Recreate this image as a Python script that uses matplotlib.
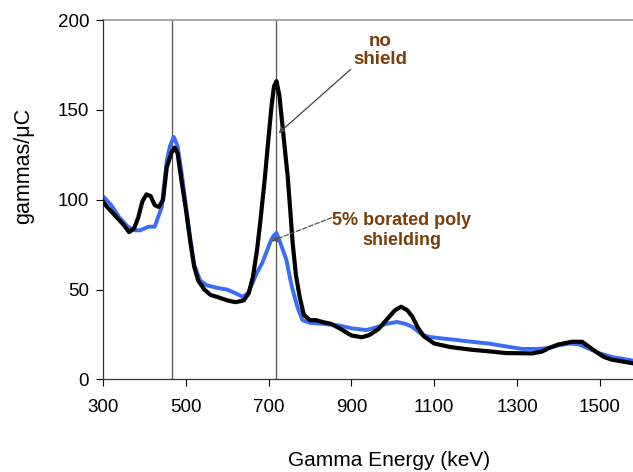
import matplotlib.pyplot as plt

plt.rcParams['font.family'] = ['Liberation Sans', 'DejaVu Sans']

# no shield spectrum (black)
e_noshield = [300, 310, 330, 350, 363, 375, 385, 395, 405, 415, 425, 435, 445, 454,
              465, 473, 480, 490, 500, 510, 520, 530, 545, 560, 575, 600, 620, 640,
              652, 662, 672, 680, 690, 700, 707, 713, 719, 726, 734, 746, 752, 758,
              766, 775, 785, 800, 815, 830, 850, 871, 900, 925, 943, 965, 984, 1005, 1020,
              1035, 1047, 1060, 1075, 1100, 1140, 1192, 1240, 1273, 1336, 1360, 1377,
              1400, 1433, 1457, 1475, 1490, 1510, 1529, 1555, 1580]
g_noshield = [99, 96, 91, 86, 82, 84, 90, 99, 103, 102, 97, 96, 100, 118,
              126, 129, 126, 110, 95, 78, 63, 55, 50, 47, 46, 44, 43, 44,
              48, 57, 72, 88, 110, 135, 152, 163, 166, 158, 140, 113, 95, 76,
              58, 46, 36, 33, 33, 32, 31, 28.5, 24.5, 23.5, 24.7, 28, 33, 38.5, 40.5,
              38.5, 35, 29, 24, 20, 18, 16.5, 15.5, 14.7, 14.5, 15.5, 17.5,
              19.5, 21, 21, 18, 15.5, 12.5, 11, 10, 9]

# 5% borated poly shielding spectrum (blue)
e_borated = [300, 320, 340, 360, 375, 390, 410, 425, 442, 454, 462, 471, 480, 490,
             500, 510, 520, 535, 550, 575, 600, 620, 637, 650, 660, 671, 685, 695,
             705, 712, 719, 730, 743, 752, 758, 770, 782, 800, 830, 871, 900, 936,
             960, 985, 1010, 1030, 1045, 1057, 1070, 1088, 1120, 1153, 1190, 1232,
             1270, 1312, 1350, 1377, 1400, 1425, 1450, 1475, 1500, 1530, 1555, 1580]
g_borated = [102, 97, 90, 85, 83, 83, 85, 85, 96, 122, 130, 135, 130, 115,
             97, 80, 64, 55, 52.5, 51, 50, 48, 46, 48, 53, 59, 65, 71,
             77, 80, 81.5, 75, 66.5, 56, 50, 40, 33, 31.5, 31, 30, 28.5, 27.5,
             29, 31, 32, 31, 29.5, 27.5, 25, 23.7, 22.8, 22, 21, 20,
             18.5, 17, 17, 17.5, 19, 20, 19.5, 17, 14.5, 12.5, 11.5, 10.5]

peak_lines = [467, 717]
x_ticks = [300, 500, 700, 900, 1100, 1300, 1500]
y_ticks = [0, 50, 100, 150, 200]

fig = plt.figure(figsize=(6.33, 4.72), dpi=100)
ax = fig.add_axes([0.1627, 0.196, 0.8373, 0.7616])

for e in peak_lines:
    ax.axvline(e, color='#555555', lw=0.9, zorder=1)
ax.axhline(200, color='#999999', lw=1.2, zorder=1, clip_on=False)

ax.plot(e_borated, g_borated, color='#3a6cf4', lw=2.8, zorder=2)
ax.plot(e_noshield, g_noshield, color='black', lw=3.0, zorder=3)

ax.set_xlim(300, 1580)
ax.set_ylim(0, 200)
ax.set_xticks(x_ticks)
ax.set_yticks(y_ticks)
ax.tick_params(direction='out', length=5, width=0.8, labelsize=13.5, pad=5)
ax.tick_params(axis='x', pad=9)
for s in ['top', 'right']:
    ax.spines[s].set_visible(False)
for s in ['left', 'bottom']:
    ax.spines[s].set_linewidth(0.9)
    ax.spines[s].set_color('#333333')

ax.set_xlabel('Gamma Energy (keV)', fontsize=15)
ax.set_ylabel('gammas/μC', fontsize=15.5)
ax.xaxis.set_label_coords(0.54, -0.2)
ax.yaxis.set_label_coords(-0.13, 0.594)

brown = '#7a3e0a'
ax.text(970, 183, 'no\nshield', ha='center', va='center', fontsize=13.5,
        fontweight='bold', color=brown, linespacing=1.05)
ax.annotate('', xy=(724, 137), xytext=(898, 172.5),
            arrowprops=dict(arrowstyle='-|>', color='#444444', lw=0.9,
                            shrinkA=0, shrinkB=0, mutation_scale=8))
ax.text(1022, 83, '5% borated poly\nshielding', ha='center', va='center',
        fontsize=13, fontweight='bold', color=brown, linespacing=1.25)
ax.annotate('', xy=(707, 77), xytext=(852, 90),
            arrowprops=dict(arrowstyle='-|>', color='#555555', lw=0.9, ls='--',
                            shrinkA=0, shrinkB=0, mutation_scale=8))

fig.savefig('out.png', dpi=100)
